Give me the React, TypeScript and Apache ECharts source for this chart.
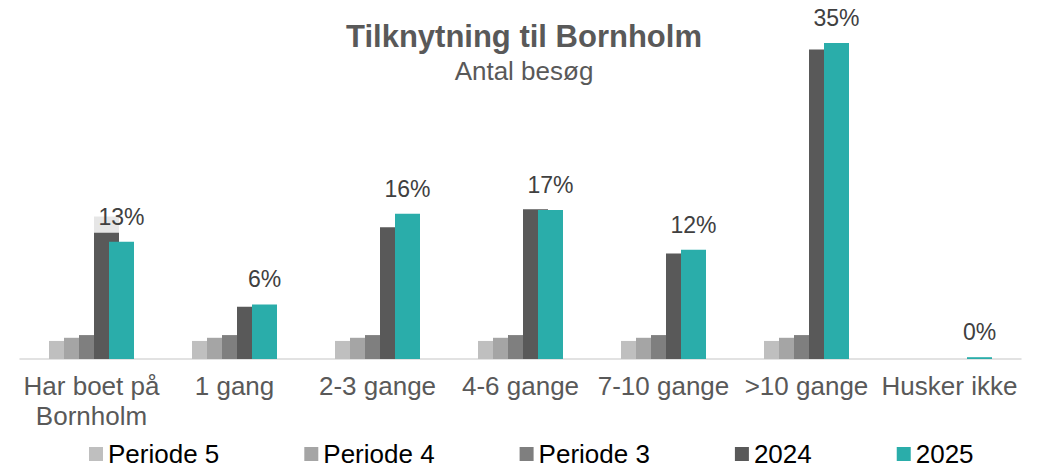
import React, { useEffect, useRef } from "react";
import * as echarts from "echarts";

const categories = [
  "Har boet på\nBornholm",
  "1 gang",
  "2-3 gange",
  "4-6 gange",
  "7-10 gange",
  ">10 gange",
  "Husker ikke",
];
const seriesNames = ["Periode 5", "Periode 4", "Periode 3", "2024", "2025"];
const periode5 = [2.0, 2.0, 2.0, 2.0, 2.0, 2.0, 0];
const periode4 = [2.35, 2.35, 2.35, 2.35, 2.35, 2.35, 0];
const periode3 = [2.65, 2.65, 2.65, 2.65, 2.65, 2.65, 0];
const y2024 = [15.8, 5.8, 14.6, 16.6, 11.7, 34.3, 0];
const y2025 = [13.0, 6.05, 16.1, 16.5, 12.1, 35.0, 0.2];
const colors = ["#bfbfbf", "#a5a5a5", "#7f7f7f", "#595959", "#2aadaa"];

const FONT = "'Liberation Sans', Arial, sans-serif";

export default function App() {
  const ref = useRef<HTMLDivElement>(null);
  useEffect(() => {
    if (!ref.current) return;
    const chart = echarts.init(ref.current, undefined, { renderer: "svg" });
    const values = [periode5, periode4, periode3, y2024, y2025];
    const series = values.map((data, i) => ({
      name: seriesNames[i],
      type: "bar" as const,
      data,
      barWidth: 25,
      barGap: "-40%",
      itemStyle: { color: colors[i] },
      label:
        i === 4
          ? {
              show: true,
              position: "top" as const,
              distance: 9,
              formatter: (p: any) => `${Math.round(p.value)}%`,
              fontSize: 23,
              fontFamily: FONT,
              color: "#404040",
              backgroundColor: "rgba(255,255,255,0.85)",
              padding: [4, 8, 4.5, 8],
            }
          : { show: false },
    }));
    chart.setOption({
      animation: false,
      title: {
        text: "Tilknytning til Bornholm",
        subtext: "Antal besøg",
        left: "center",
        top: 21,
        padding: 0,
        itemGap: 6,
        textStyle: {
          fontSize: 31,
          fontWeight: "bold",
          color: "#595959",
          fontFamily: FONT,
        },
        subtextStyle: {
          fontSize: 26,
          color: "#595959",
          fontFamily: FONT,
        },
      },
      legend: {
        data: seriesNames,
        left: 89,
        top: 441,
        padding: 0,
        itemWidth: 14,
        itemHeight: 14,
        itemGap: 85,
        icon: "rect",
        textStyle: { fontSize: 26, color: "#000", fontFamily: FONT },
      },
      grid: { left: 20, right: 27, top: 16, bottom: 110 },
      xAxis: {
        type: "category",
        data: categories,
        axisLine: { show: true, lineStyle: { color: "#d9d9d9", width: 1.5 } },
        axisTick: { show: false },
        axisLabel: {
          interval: 0,
          margin: 12,
          fontSize: 26,
          lineHeight: 30,
          color: "#595959",
          fontFamily: FONT,
        },
      },
      yAxis: {
        type: "value",
        min: 0,
        max: 38,
        show: false,
        splitLine: { show: false },
      },
      series,
    });
    return () => chart.dispose();
  }, []);
  return (
    <div
      ref={ref}
      style={{ position: "fixed", left: 0, top: 0, width: 1048, height: 469, background: "#fff" }}
    />
  );
}
